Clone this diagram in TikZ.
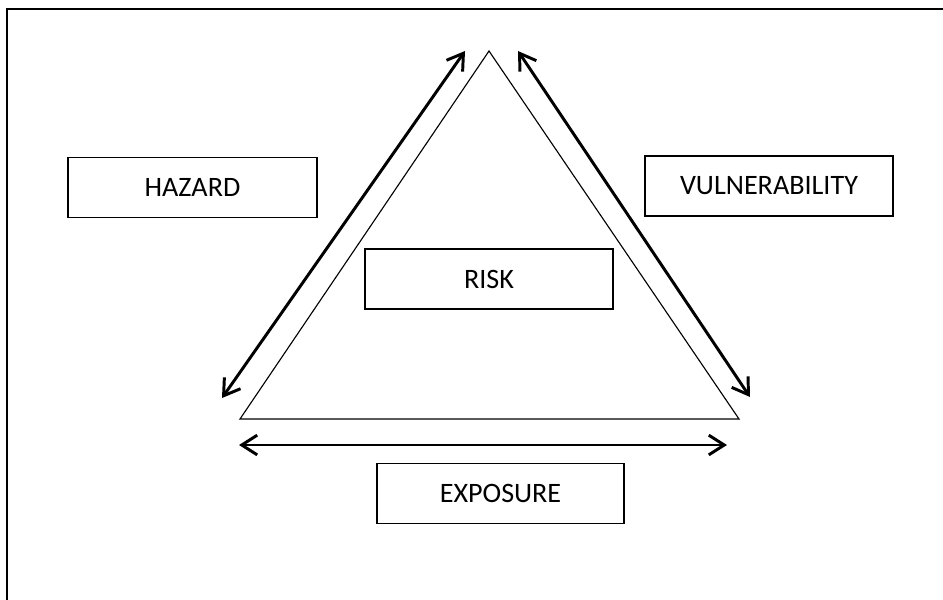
\documentclass[tikz,border=0pt]{standalone}
\usepackage{fontspec}
\setmainfont{Carlito}
\usetikzlibrary{arrows.meta, positioning}

\begin{document}
\begin{tikzpicture}[x=0.025cm, y=-0.025cm,
    factor/.style={draw, line width=1.1pt, minimum width=#1*0.025cm,
                   minimum height=60*0.025cm, inner sep=0pt, font=\fontsize{20}{24}\selectfont},
    link/.style={{Straight Barb[length=11pt, width=14pt]}-{Straight Barb[length=11pt, width=14pt]},
                 line width=2.1pt},
]
    \useasboundingbox (0, 0) rectangle (943, 600);
    % frame
    \draw[line width=1.3pt] (7, 620) -- (7, 9) -- (960, 9);

    % triangle
    \coordinate (top) at (489, 51);
    \coordinate (left) at (240, 419);
    \coordinate (right) at (739, 419);
    \draw[line width=0.8pt] (left) -- (top) -- (right) -- cycle;

    % === factors ===
    \node[factor=249] (hazard) at (192.5, 187.5) {HAZARD};
    \node[factor=248] (vuln) at (769, 186) {VULNERABILITY};
    \node[factor=248] (risk) at (489, 279) {RISK};
    \node[factor=247] (exposure) at (500.5, 493.5) {EXPOSURE};

    % arrows along the sides
    \coordinate (hz1) at (222, 398);
    \coordinate (hz2) at (465, 51);
    \coordinate (vu1) at (518, 51);
    \coordinate (vu2) at (750, 397);
    \coordinate (ex1) at (239, 445);
    \coordinate (ex2) at (727, 445);
    \draw[link] (hz1) -- (hz2);
    \draw[link] (vu1) -- (vu2);
    \draw[link] (ex1) -- (ex2);
\end{tikzpicture}
\end{document}
